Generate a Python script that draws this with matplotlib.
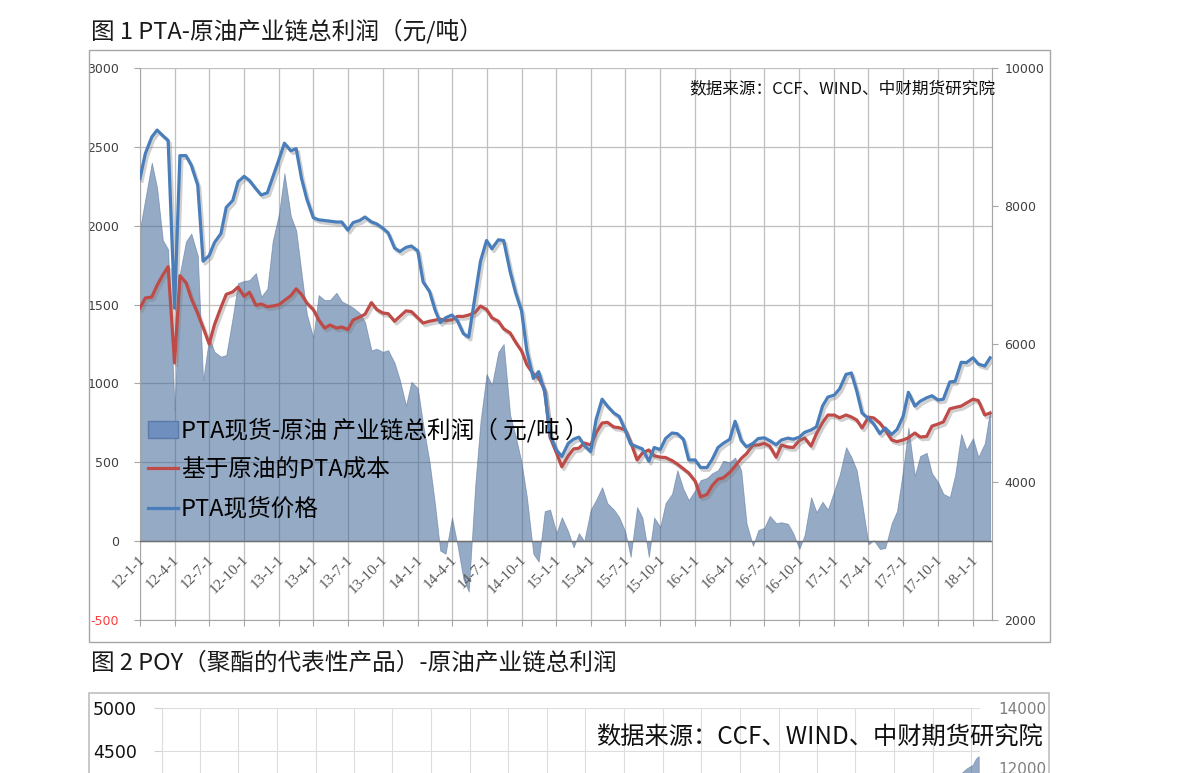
import numpy as np
import pandas as pd
import matplotlib
matplotlib.use('Agg')
import matplotlib.pyplot as plt
import matplotlib.dates as mdates
import matplotlib.patheffects as pe
from matplotlib.patches import Rectangle, Patch
from matplotlib.lines import Line2D

plt.rcParams['font.family'] = ['Noto Sans CJK SC', 'DejaVu Sans']

# ---------------- data: chart 1 (semi-monthly, 1st & 15th) ----------------
dates = pd.date_range('2012-01-01', '2018-02-15', freq='SMS')

profit = [1980, 2170, 2400, 2240, 1909, 1850, 830, 1699, 1900, 1950, 1810, 1021,
          1290, 1200, 1170, 1180, 1420, 1636, 1650, 1655, 1700, 1550, 1600, 1900,
          2080, 2333, 2060, 1970, 1700, 1440, 1290, 1560, 1528, 1530, 1575, 1520,
          1500, 1480, 1446, 1390, 1210, 1220, 1200, 1211, 1130, 1020, 860, 1010,
          970, 740, 500, 240, -60, -80, 150, -20, -240, -320, 350, 760,
          1060, 990, 1200, 1250, 800, 670, 500, 280, -80, -130, 190, 200,
          51, 152, 60, -40, 51, 0, 200, 260, 342, 240, 200, 152,
          60, -100, 216, 150, -100, 150, 90, 241, 300, 450, 330, 260,
          323, 387, 400, 431, 450, 510, 500, 530, 450, 114, -30, 70,
          85, 160, 114, 120, 110, 50, -50, 40, 279, 184, 250, 200,
          320, 420, 596, 533, 450, 245, -20, 6, -50, -44, 114, 190,
          450, 720, 415, 540, 560, 430, 374, 300, 279, 420, 680, 580,
          653, 533, 621, 830]

pta_price = [8400, 8760, 9000, 9100, 9020, 8950, 6520, 8730, 8730, 8590, 8300, 7200,
             7280, 7470, 7600, 7980, 8080, 8350, 8430, 8370, 8250, 8160, 8190, 8410,
             8680, 8910, 8800, 8830, 8400, 8100, 7830, 7800, 7790, 7780, 7768, 7768,
             7650, 7760, 7790, 7840, 7770, 7740, 7680, 7610, 7390, 7340, 7400, 7420,
             7350, 6900, 6760, 6500, 6310, 6380, 6420, 6340, 6150, 6100, 6700, 7200,
             7500, 7380, 7510, 7500, 7050, 6750, 6480, 5900, 5500, 5600, 5300, 4680,
             4460, 4370, 4560, 4620, 4650, 4530, 4440, 4900, 5200, 5100, 5000, 4950,
             4750, 4550, 4510, 4480, 4300, 4500, 4470, 4630, 4710, 4700, 4620, 4319,
             4319, 4210, 4210, 4330, 4500, 4560, 4620, 4880, 4600, 4510, 4560, 4630,
             4640, 4600, 4540, 4609, 4636, 4620, 4650, 4720, 4754, 4800, 5100, 5230,
             5260, 5350, 5560, 5580, 5320, 5000, 4920, 4840, 4700, 4783, 4690, 4760,
             4950, 5300, 5100, 5170, 5220, 5250, 5188, 5200, 5450, 5460, 5735, 5730,
             5800, 5710, 5680, 5800]

pta_cost = [6520, 6667, 6680, 6850, 7000, 7120, 5725, 6990, 6890, 6660, 6440, 6240,
            6000, 6280, 6530, 6720, 6754, 6826, 6690, 6750, 6560, 6580, 6540, 6550,
            6570, 6630, 6700, 6800, 6720, 6594, 6500, 6350, 6230, 6275, 6232, 6246,
            6210, 6348, 6391, 6430, 6600, 6500, 6449, 6440, 6330, 6400, 6480, 6470,
            6380, 6304, 6330, 6345, 6360, 6340, 6350, 6400, 6400, 6420, 6457, 6550,
            6500, 6380, 6330, 6220, 6160, 6030, 5900, 5700, 5565, 5510, 5333, 4650,
            4420, 4220, 4380, 4480, 4490, 4565, 4536, 4710, 4855, 4865, 4797, 4787,
            4754, 4580, 4319, 4420, 4464, 4380, 4360, 4355, 4310, 4260, 4190, 4130,
            4010, 3783, 3820, 3950, 4040, 4060, 4140, 4230, 4340, 4410, 4536, 4536,
            4560, 4520, 4360, 4536, 4507, 4500, 4600, 4638, 4520, 4700, 4860, 4970,
            4970, 4930, 4971, 4942, 4899, 4783, 4940, 4928, 4855, 4754, 4609, 4585,
            4609, 4640, 4710, 4652, 4660, 4810, 4840, 4870, 5060, 5080, 5100, 5145,
            5200, 5180, 4971, 5000]

tick_labels = ['12-1-1', '12-4-1', '12-7-1', '12-10-1', '13-1-1', '13-4-1', '13-7-1',
               '13-10-1', '14-1-1', '14-4-1', '14-7-1', '14-10-1', '15-1-1', '15-4-1',
               '15-7-1', '15-10-1', '16-1-1', '16-4-1', '16-7-1', '16-10-1', '17-1-1',
               '17-4-1', '17-7-1', '17-10-1', '18-1-1']

legend_labels = ['PTA现货-原油 产业链总利润（ 元/吨 ）', '基于原油的PTA成本', 'PTA现货价格']
title1 = '图 1 PTA-原油产业链总利润（元/吨）'
title2 = '图 2 POY（聚酯的代表性产品）-原油产业链总利润'
source = '数据来源：CCF、WIND、中财期货研究院'

# ---------------- data: chart 2 (only its top edge is visible) ----------------
poy_dates = ['2018-02-23', '2018-03-09', '2018-03-23', '2018-04-06', '2018-04-13', '2018-04-20']
poy_profit = [4050, 4240, 4300, 4340, 4410, 4440]

# ---------------- layout helpers ----------------
W, H = 1191, 773
def fx(px):
    return px / W
def fy(py):
    return 1 - py / H

AREA = '#3F6496'
BLUE = '#4A7EBB'
RED = '#BE4B48'
GRID = '#BFBFBF'

fig = plt.figure(figsize=(W / 100, H / 100), dpi=100)

# ---------- chart 1 ----------
fig.text(fx(91), fy(31), title1, fontsize=17, va='center', ha='left', color='#1a1a1a')
fig.add_artist(Rectangle((fx(89), fy(642)), fx(1050) - fx(89), fy(50) - fy(642),
                         transform=fig.transFigure, fill=False, edgecolor='#A6A6A6', lw=1))

x = mdates.date2num(dates)
tick_x = mdates.date2num([pd.Timestamp('20' + t) for t in tick_labels])

ax = fig.add_axes([fx(140), fy(620), fx(992) - fx(140), fy(68) - fy(620)])
ax.set_xlim(mdates.date2num(pd.Timestamp('2012-01-01')), mdates.date2num(pd.Timestamp('2018-02-20')))
ax.set_ylim(-500, 3000)
yt = list(range(-500, 3001, 500))
ax.set_yticks(yt, [str(v) for v in yt])
ax.set_xticks(tick_x)
ax.tick_params(axis='x', labelbottom=False, length=4, direction='out', color='#A6A6A6')
ax.tick_params(axis='y', length=4, direction='out', color='#A6A6A6', pad=11,
               labelsize=9, labelcolor='#404040')
for lbl in ax.get_yticklabels():
    lbl.set_fontfamily('DejaVu Sans')
ax.get_yticklabels()[0].set_color('#FF3B3B')
ax.grid(True, color=GRID, lw=0.9)
ax.set_axisbelow(True)
ax.spines['top'].set_visible(False)
for s in ['left', 'bottom', 'right']:
    ax.spines[s].set_color('#A6A6A6')

ax.fill_between(x, 0, profit, facecolor=AREA, alpha=0.55, edgecolor='#55719A', lw=0.6, zorder=2)
ax.axhline(0, color='#707070', lw=1.0, zorder=3)

for tx, tl in zip(tick_x, tick_labels):
    ax.annotate(tl, xy=(tx, 0), xytext=(2, -12), textcoords='offset points',
                rotation=45, ha='right', va='center', rotation_mode='anchor',
                fontsize=11, color='#595959', family='Liberation Serif',
                annotation_clip=False)

ax2 = ax.twinx()
ax2.set_ylim(2000, 10000)
ax2.set_yticks(range(2000, 10001, 2000))
ax2.tick_params(axis='y', length=4, direction='out', color='#A6A6A6', pad=5,
                labelsize=9, labelcolor='#404040')
for lbl in ax2.get_yticklabels():
    lbl.set_fontfamily('DejaVu Sans')
for s in ['top', 'left', 'bottom']:
    ax2.spines[s].set_visible(False)
ax2.spines['right'].set_color('#A6A6A6')

shadow = [pe.SimpleLineShadow(offset=(1.5, -2), shadow_color='#7a7a7a', alpha=0.35), pe.Normal()]
ax2.plot(x, pta_cost, color=RED, lw=2.3, path_effects=shadow, solid_joinstyle='round', zorder=3)
ax2.plot(x, pta_price, color=BLUE, lw=2.3, path_effects=shadow, solid_joinstyle='round', zorder=4)

handles = [Patch(facecolor='#6F8FBF', edgecolor='#5B7AA5', lw=1),
           Line2D([], [], color=RED, lw=2.3),
           Line2D([], [], color=BLUE, lw=2.3)]
leg = ax2.legend(handles, legend_labels, loc='upper left', bbox_to_anchor=(fx(148), fy(418)),
                 bbox_transform=fig.transFigure, frameon=False, fontsize=17,
                 handlelength=1.25, handleheight=0.7, handletextpad=0.15,
                 labelspacing=0.68, borderaxespad=0, borderpad=0)

fig.text(fx(995), fy(89), source, fontsize=12, ha='right', va='center', color='#111111')

# ---------- chart 2 (partially visible) ----------
fig.text(fx(91), fy(663), title2, fontsize=17, va='center', ha='left', color='#1a1a1a')
fig.add_artist(Rectangle((fx(89), fy(820)), fx(1049) - fx(89), fy(693) - fy(820),
                         transform=fig.transFigure, fill=False, edgecolor='#BFBFBF', lw=1.2))

ax3 = fig.add_axes([fx(162), fy(708 + 430), fx(980) - fx(162), 430 / H])
ax3.set_xlim(mdates.date2num(pd.Timestamp('2013-01-01')), mdates.date2num(pd.Timestamp('2018-04-23')))
ax3.set_ylim(0, 5000)
ax3.set_yticks([4500, 5000])
ax3.set_xticks(mdates.date2num(pd.date_range('2013-01-01', '2018-04-01', freq='QS')))
ax3.tick_params(axis='x', labelbottom=False, length=0)
ax3.tick_params(axis='y', length=6, color='#D0D0D0', pad=12, labelsize=12.5, labelcolor='#111111')
for lbl in ax3.get_yticklabels():
    lbl.set_fontfamily('DejaVu Sans')
ax3.grid(True, color='#DDDDDD', lw=0.8)
ax3.set_axisbelow(True)
for s in ['top', 'right', 'bottom']:
    ax3.spines[s].set_visible(False)
ax3.spines['left'].set_color('#DDDDDD')
ax3.fill_between(mdates.date2num(pd.to_datetime(poy_dates)), 0, poy_profit,
                 facecolor=AREA, alpha=0.55, edgecolor='#55719A', lw=0.6)

ax4 = ax3.twinx()
ax4.set_ylim(14000 - 430 / 60 * 2000, 14000)
ax4.set_yticks([12000, 14000])
ax4.tick_params(axis='y', length=0, pad=13, labelsize=11, labelcolor='#7F7F7F')
for lbl in ax4.get_yticklabels():
    lbl.set_fontfamily('DejaVu Sans')
for s in ax4.spines.values():
    s.set_visible(False)

fig.text(fx(1043), fy(738), source, fontsize=17.5, ha='right', va='center', color='#111111')

fig.savefig('out.png', dpi=100)
